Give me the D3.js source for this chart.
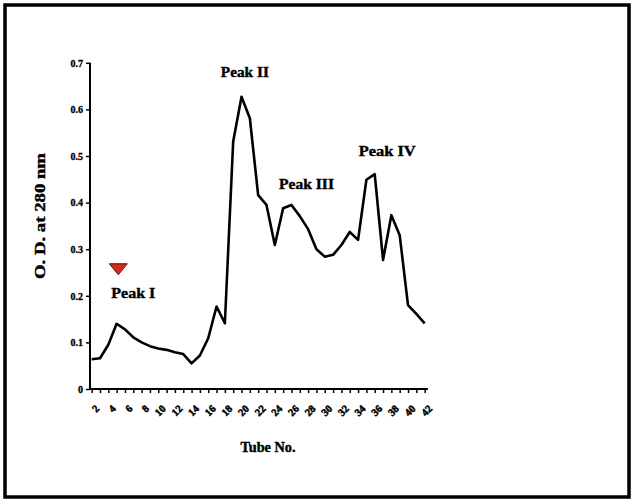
<!DOCTYPE html>
<html><head><meta charset="utf-8">
<script src="https://cdn.jsdelivr.net/npm/d3@7"></script>
<style>body{margin:0;background:#fff}svg{display:block}</style>
</head><body>
<svg id="c" width="635" height="504"></svg>
<script>
const tubeIndex = d3.range(0, 41);
const odValues = [0.064,0.066,0.095,0.140,0.128,0.111,0.100,0.092,0.087,0.084,
  0.079,0.075,0.055,0.072,0.109,0.177,0.141,0.531,0.627,0.581,
  0.416,0.395,0.309,0.388,0.395,0.371,0.343,0.300,0.284,0.288,
  0.309,0.337,0.320,0.449,0.461,0.277,0.373,0.330,0.180,0.161,0.141];
const yTicks = [0,0.1,0.2,0.3,0.4,0.5,0.6,0.7];
const yTickLabels = ["0","0.1","0.2","0.3","0.4","0.5","0.6","0.7"];
const xTickIdx = d3.range(0, 41, 2);
const xTickLabels = xTickIdx.map(i => String(i + 2));
const peakNames = ["Peak I","Peak II","Peak III","Peak IV"];
const peakIdx = [5, 18.4, 25.8, 35.5];
const peakVal = [0.195, 0.67, 0.43, 0.50];
const arrowIdx = 3.2, arrowVal = 0.258;

const svg = d3.select("#c");
svg.append("rect").attr("x",5).attr("y",5).attr("width",624).attr("height",492)
  .attr("fill","none").attr("stroke","#000").attr("stroke-width",3.5);

const x = d3.scaleLinear().domain([-0.2, 40.4]).range([90, 428]);
const y = d3.scaleLinear().domain([0, 0.7]).range([389, 62.8]);
const serif = "'Liberation Serif','DejaVu Serif',serif";

// y axis
const ya = svg.append("g").attr("transform","translate(90,0)")
  .call(d3.axisLeft(y).tickValues(yTicks).tickFormat((d,i)=>yTickLabels[i]).tickSize(4).tickPadding(3));
ya.select(".domain").attr("stroke-width",2).attr("d","M0,389V62.8");
ya.selectAll(".tick line").attr("stroke-width",1.5);
ya.selectAll("text").attr("font-family",serif).attr("font-weight","bold").attr("font-size",10)
  .attr("stroke","#000").attr("stroke-width",0.3);

// x axis
const xa = svg.append("g").attr("transform","translate(0,389)")
  .call(d3.axisBottom(x).tickValues(tubeIndex).tickFormat("").tickSize(4).tickSizeOuter(0));
xa.select(".domain").attr("stroke-width",2).attr("d","M90,0H428");
xa.selectAll(".tick line").attr("stroke-width",1.5);
const xl = svg.append("g");
xl.selectAll("text").data(xTickIdx).join("text")
  .attr("transform",(d)=>`translate(${x(d)+3},${404}) rotate(-45)`)
  .attr("text-anchor","end").attr("dy","0.7em")
  .attr("font-family",serif).attr("font-weight","bold").attr("font-size",10.5)
  .attr("stroke","#000").attr("stroke-width",0.5)
  .text((d,i)=>xTickLabels[i]);

// line
svg.append("path").datum(odValues)
  .attr("d", d3.line().x((d,i)=>x(tubeIndex[i])).y(d=>y(d)))
  .attr("fill","none").attr("stroke","#000").attr("stroke-width",2.6).attr("stroke-linejoin","round");

// peak labels
const peakWidths = [44, 48, 55, 57];
svg.selectAll(".pk").data(peakNames).join("text").attr("class","pk")
  .attr("x",(d,i)=>x(peakIdx[i])).attr("y",(d,i)=>y(peakVal[i]))
  .attr("text-anchor","middle").attr("font-family",serif).attr("font-weight","bold")
  .attr("font-size",15).attr("textLength",(d,i)=>peakWidths[i]).attr("lengthAdjust","spacingAndGlyphs")
  .attr("stroke","#000").attr("stroke-width",0.4)
  .text(d=>d);

// red arrow
const ax = x(arrowIdx), ay = y(arrowVal);
svg.append("path").attr("d",`M${ax-9},${ay-5}L${ax+9},${ay-5}L${ax},${ay+6}Z`)
  .attr("fill","#d42a1e").attr("stroke","#5a1010").attr("stroke-width",1);

// axis titles
svg.append("text").attr("transform","translate(45,216) rotate(-90)")
  .attr("text-anchor","middle").attr("font-family",serif).attr("font-weight","bold")
  .attr("font-size",14).attr("textLength",126).attr("lengthAdjust","spacingAndGlyphs")
  .attr("stroke","#000").attr("stroke-width",0.4)
  .text("O. D. at 280 nm");
svg.append("text").attr("x",268).attr("y",452).attr("text-anchor","middle")
  .attr("font-family",serif).attr("font-weight","bold").attr("font-size",14)
  .attr("textLength",55).attr("lengthAdjust","spacingAndGlyphs")
  .attr("stroke","#000").attr("stroke-width",0.4)
  .text("Tube No.");
</script>
</body></html>
